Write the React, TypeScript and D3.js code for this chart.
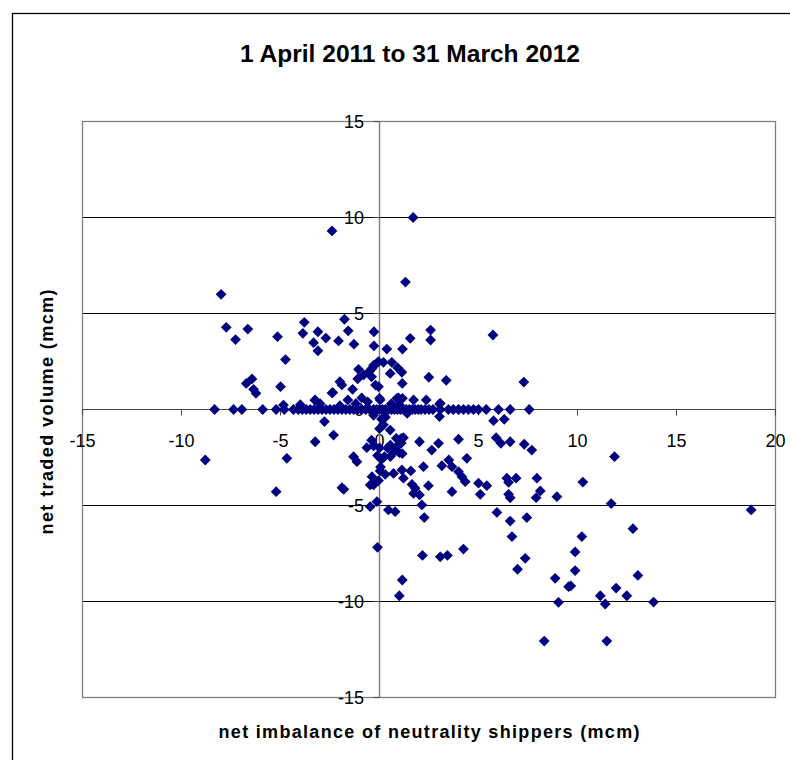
import React from "react";
import * as d3 from "d3";

// ---- Data ----
const title = "1 April 2011 to 31 March 2012";
const xTitle = "net imbalance of neutrality shippers (mcm)";
const yTitle = "net traded volume (mcm)";

const xTicks = [-15, -10, -5, 0, 5, 10, 15, 20];
const yTicks = [-15, -10, -5, 0, 5, 10, 15];

// points lying on the zero line (net traded volume = 0)
const zeroLineX = [
  -8.33, -7.37, -6.95, -5.9, -5.22, -4.81, -4.35, -4.1, -3.9, -3.7, -3.5, -3.3, -3.1, -2.9,
  -2.7, -2.5, -2.3, -2.1, -1.9, -1.7, -1.5, -1.3, -1.1, -0.9, -0.7, -0.5, -0.3, -0.15, 0,
  0.15, 0.3, 0.45, 0.6, 0.75, 0.9, 1.05, 1.2, 1.35, 1.5, 1.65, 1.8, 1.95, 2.1, 2.3, 2.5,
  2.7, 3.07, 3.48, 3.73, 3.99, 4.24, 4.49, 4.75, 5.0, 5.39, 6.01, 6.6, 7.56,
];

// points above the zero line [imbalance, traded]
const upperPoints: [number, number][] = [
  [-8.0, 6.0], [-2.4, 9.3], [-7.74, 4.28], [-7.27, 3.64], [-6.65, 4.19], [-5.15, 3.79],
  [-4.75, 2.6], [-3.8, 4.54], [-3.87, 3.97], [-3.33, 3.48], [-3.11, 4.05], [-3.11, 3.06],
  [-2.71, 3.72], [-2.07, 3.57], [-1.77, 4.7], [-1.58, 4.1], [-1.29, 3.4], [-0.28, 4.05],
  [-0.28, 3.31], [0.37, 3.15], [-6.73, 1.36], [-6.44, 1.59], [-6.36, 1.05], [-6.24, 0.84],
  [-5.0, 1.19], [-3.26, 0.48], [-2.4, 0.86], [-2.0, 1.45], [-1.36, 1.05], [-1.06, 2.09],
  [-1.1, 1.6], [-0.8, 1.8], [-0.5, 2.0], [-0.3, 2.3], [-0.15, 2.4], [-0.4, 1.7],
  [-0.2, 1.27], [-0.05, 1.19], [0, 0.58], [1.7, 10.0], [1.31, 6.64], [2.58, 4.14],
  [2.58, 3.62], [1.55, 3.71], [5.73, 3.88], [1.16, 3.15], [0.2, 2.46], [0.62, 2.46],
  [0.91, 2.18], [1.13, 1.94], [0.54, 1.88], [-0.05, 2.49], [-0.38, 2.14], [1.15, 1.36],
  [2.49, 1.68], [3.37, 1.52], [7.29, 1.43], [0.88, 0.58], [1.16, 0.58], [1.72, 0.5],
  [2.36, 0.5], [3.07, 0.32], [-4.85, 0.23], [-3.25, 0.5], [-2.36, 0.88], [-1.9, 1.28],
  [-4.0, 0.25], [-3.0, 0.3], [-2.0, 0.2], [-1.2, 0.3], [-0.6, 0.4], [0.6, 0.3],
  [1.0, 0.25], [-1.6, 0.5], [-0.9, 0.6], [3.03, 0.29], [0.03, 0.5], [0.96, 0.6],
];

// points below the zero line [imbalance, traded]
const lowerPoints: [number, number][] = [
  [-2.78, -0.63], [-2.32, -1.33], [-0.3, -0.3], [0.1, -0.5], [0.2, -0.8], [0.0, -1.0],
  [0.3, -0.4], [1.4, -0.2], [3.03, -0.37], [5.76, -0.58], [6.3, -0.51],
  [-3.25, -1.68], [-8.8, -2.63], [-4.68, -2.54], [-5.22, -4.28], [-1.9, -4.07], [-1.8, -4.16],
  [-1.31, -2.46], [-1.14, -2.72], [-0.64, -1.99], [-0.38, -3.5], [-0.47, -3.93],
  [-0.47, -5.06], [-0.13, -4.8], [-0.1, -2.4], [0.1, -2.6], [0.05, -3.0], [-0.05, -3.7],
  [0.54, -1.07], [1.21, -1.47], [2.02, -1.68], [2.98, -1.76], [2.64, -2.11], [3.99, -1.55],
  [5.89, -1.47], [6.13, -1.76], [6.6, -1.68], [7.31, -1.81], [7.69, -2.11], [4.41, -2.54],
  [3.5, -2.63], [3.66, -2.98], [3.15, -2.93], [2.22, -2.98], [3.99, -3.24], [4.16, -3.5],
  [4.33, -3.76], [5.0, -3.84], [5.42, -3.97], [6.43, -3.58], [6.9, -3.58], [7.95, -3.58],
  [6.52, -3.79], [2.47, -3.97], [3.66, -4.28], [5.09, -4.42], [6.52, -4.42], [6.6, -4.6],
  [8.12, -4.24], [7.91, -4.59], [8.96, -4.54], [5.93, -5.36], [6.6, -5.81], [7.44, -5.63],
  [2.14, -4.97], [2.26, -5.63], [0.45, -5.23], [0.79, -5.32], [0.03, -3.2], [0.29, -3.38],
  [0.71, -3.33], [1.13, -3.15], [1.21, -3.58], [1.58, -3.2], [1.64, -3.9], [1.8, -4.1],
  [2.02, -4.45], [1.72, -4.37], [-0.3, -3.93], [-0.3, -1.9], [0.0, -2.0], [0.4, -2.0],
  [0.55, -1.85], [0.85, -1.95], [1.1, -1.75], [0.7, -2.25], [1.0, -2.25], [1.15, -2.3],
  [0.55, -2.45], [0.25, -2.45], [0.85, -1.5], [1.1, -1.5], [-0.4, -1.6], [-0.1, -7.18],
  [2.17, -7.6], [3.07, -7.67], [3.43, -7.6], [4.24, -7.27], [1.15, -8.88], [1.0, -9.7],
  [6.69, -6.62], [7.36, -7.75], [6.97, -8.32], [8.87, -8.79], [9.55, -9.23], [9.04, -10.04],
  [8.32, -12.06], [11.87, -2.46], [10.27, -3.78], [11.7, -4.9], [18.77, -5.23], [12.8, -6.21],
  [10.22, -6.62], [9.88, -7.42], [9.88, -8.39], [13.05, -8.64], [9.66, -9.19], [11.95, -9.3],
  [11.15, -9.7], [12.49, -9.7], [11.4, -10.13], [13.84, -10.03], [11.48, -12.06],
];

const allPoints: [number, number][] = [
  ...zeroLineX.map((x) => [x, 0] as [number, number]),
  ...upperPoints,
  ...lowerPoints,
];

export default function App() {
  const W = 790;
  const H = 760;
  const left = 82.5;
  const right = 775.5;
  const top = 121.5;
  const bottom = 697.5;

  const x = d3.scaleLinear().domain([-15, 20]).range([left, right]);
  const y = d3.scaleLinear().domain([-15, 15]).range([bottom, top]);

  const diamond = d3.symbol().type(d3.symbolSquare).size(58)()!;
  const font = "'Liberation Sans', Arial, sans-serif";
  const x0 = x(0);
  const y0 = y(0);

  return (
    <svg
      width={W}
      height={H}
      style={{ position: "absolute", left: 0, top: 0, background: "#fff" }}
      fontFamily={font}
    >
      <rect x={0} y={0} width={W} height={H} fill="#fff" />
      {/* outer chart border */}
      <rect x={12.5} y={13.5} width={900} height={900} fill="none" stroke="#000" strokeWidth={1.3} />

      {/* title */}
      <text
        x={410}
        y={62}
        textAnchor="middle"
        fontWeight="bold"
        fontSize={23.5}
        textLength={340}
        lengthAdjust="spacingAndGlyphs"
      >
        {title}
      </text>

      {/* horizontal gridlines */}
      {yTicks
        .filter((t) => t !== -15 && t !== 15 && t !== 0)
        .map((t) => (
          <line key={"g" + t} x1={left} x2={right} y1={y(t)} y2={y(t)} stroke="#000" strokeWidth={1} />
        ))}

      {/* plot area border */}
      <rect
        x={left}
        y={top}
        width={right - left}
        height={bottom - top}
        fill="none"
        stroke="#808080"
        strokeWidth={1.3}
      />

      {/* x axis at y=0 */}
      <line x1={left} x2={right} y1={y0} y2={y0} stroke="#444" strokeWidth={1} />
      {xTicks.map((t) => (
        <g key={"xt" + t}>
          <line x1={x(t)} x2={x(t)} y1={y0} y2={y0 + 6} stroke="#444" strokeWidth={1} />
          <text x={x(t)} y={447} textAnchor="middle" fontSize={18}>
            {t}
          </text>
        </g>
      ))}

      {/* y axis at x=0 */}
      <line x1={x0} x2={x0} y1={top} y2={bottom} stroke="#808080" strokeWidth={1.5} />
      {yTicks.map((t) => (
        <g key={"yt" + t}>
          <line x1={x0 - 6} x2={x0} y1={y(t)} y2={y(t)} stroke="#444" strokeWidth={1} />
          <text x={364} y={y(t)} dy="0.36em" textAnchor="end" fontSize={18}>
            {t}
          </text>
        </g>
      ))}

      {/* points */}
      {allPoints.map(([px, py], i) => (
        <path
          key={i}
          d={diamond}
          transform={`translate(${x(px)},${y(py)}) rotate(45)`}
          fill="#000080"
        />
      ))}

      {/* axis titles */}
      <text
        x={429}
        y={738}
        textAnchor="middle"
        fontWeight="bold"
        fontSize={18}
        textLength={421}
        lengthAdjust="spacing"
      >
        {xTitle}
      </text>
      <text
        transform={`translate(53,412) rotate(-90)`}
        textAnchor="middle"
        fontWeight="bold"
        fontSize={18}
        textLength={245}
        lengthAdjust="spacing"
      >
        {yTitle}
      </text>
    </svg>
  );
}
